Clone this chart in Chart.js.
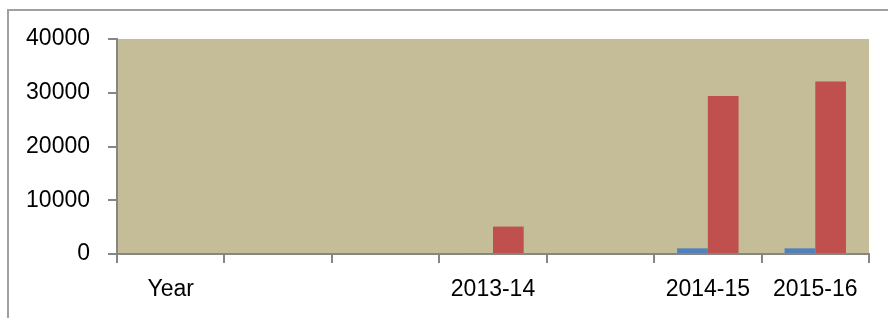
<!DOCTYPE html>
<html>
<head>
<meta charset="utf-8">
<script src="https://cdn.jsdelivr.net/npm/chart.js@4/dist/chart.umd.min.js"></script>
<style>
  html, body { margin: 0; padding: 0; background: #fff; overflow: hidden; }
  #wrap { position: relative; width: 888px; height: 318px; }
  #frame {
    position: absolute; left: 7px; top: 9px; width: 1000px; height: 400px;
    border-left: 2px solid #a0a0a0; border-top: 2px solid #a0a0a0;
  }
  canvas { position: absolute; left: 0; top: 0; }
</style>
</head>
<body>
<div id="wrap">
  <div id="frame"></div>
  <canvas id="graph" width="888" height="318"></canvas>
</div>
<script>
const labels = ["Year", "", "", "2013-14", "", "2014-15", "2015-16"];
const seriesBlue = [0, 0, 0, 160, 0, 1050, 1050];
const seriesRed = [0, 0, 0, 5100, 0, 29400, 32100];
const yTicks = [0, 10000, 20000, 30000, 40000];

const axisGray = "#868686";
const labelFont = { family: "Liberation Sans, Arial, sans-serif", size: 23 };

// fill the plot area like the Excel chart
const plotBackground = {
  id: "plotBackground",
  beforeDraw: chart => {
    const { ctx, chartArea } = chart;
    ctx.save();
    ctx.fillStyle = "#C4BD97";
    ctx.fillRect(chartArea.left, chartArea.top,
      chartArea.right - chartArea.left, chartArea.bottom - chartArea.top);
    ctx.restore();
  }
};

const graph = document.getElementById("graph").getContext("2d");
new Chart(graph, {
  type: "bar",
  data: {
    labels: labels,
    datasets: [
      { label: "Series1", data: seriesBlue, backgroundColor: "#4F81BD" },
      { label: "Series2", data: seriesRed, backgroundColor: "#C0504D" }
    ]
  },
  options: {
    responsive: false,
    animation: false,
    events: [],
    layout: { padding: { top: 39, right: 19, left: 0, bottom: 0 } },
    datasets: { bar: { categoryPercentage: 2 / 3.5, barPercentage: 1 } },
    plugins: { legend: { display: false }, tooltip: { enabled: false } },
    scales: {
      x: {
        afterFit: axis => { axis.height = 64; },
        grid: {
          offset: true,
          drawOnChartArea: false,
          tickLength: 9,
          color: axisGray,
          lineWidth: 2
        },
        border: { color: axisGray, width: 2 },
        ticks: {
          autoSkip: false,
          maxRotation: 0,
          padding: 13,
          color: "#000",
          font: labelFont
        }
      },
      y: {
        min: 0,
        max: 40000,
        afterFit: axis => { axis.width = 117; },
        afterBuildTicks: axis => { axis.ticks = yTicks.map(v => ({ value: v })); },
        grid: {
          drawOnChartArea: false,
          tickLength: 9,
          color: axisGray,
          lineWidth: 2
        },
        border: { color: axisGray, width: 2 },
        ticks: {
          padding: 18,
          color: "#000",
          font: labelFont,
          callback: v => String(v)
        }
      }
    }
  },
  plugins: [plotBackground]
});
</script>
</body>
</html>
